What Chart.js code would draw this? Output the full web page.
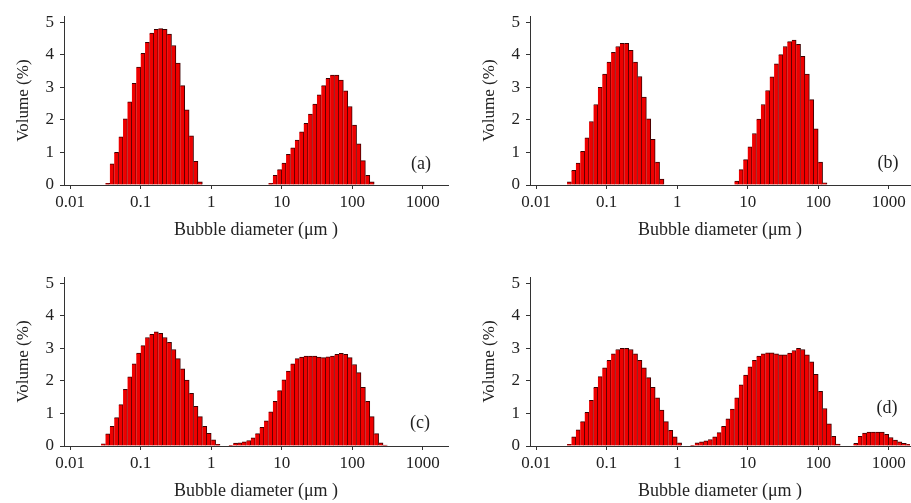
<!DOCTYPE html>
<html>
<head>
<meta charset="utf-8">
<script src="https://cdn.jsdelivr.net/npm/chart.js@4/dist/chart.umd.min.js"></script>
<style>
  body { margin: 0; background: #fff; width: 911px; height: 503px; overflow: hidden; position: relative; }
  canvas { position: absolute; }
</style>
</head>
<body>
<canvas id="grafA" width="455" height="242" style="left:0;top:0"></canvas>
<canvas id="grafB" width="445" height="242" style="left:466px;top:0"></canvas>
<canvas id="grafC" width="455" height="242" style="left:0;top:261px"></canvas>
<canvas id="grafD" width="445" height="242" style="left:466px;top:261px"></canvas>
<script>
// classes de diametro: 16 por decada (escala log)
const binsPorDecada = 16;
const xTicks = [0.01, 0.1, 1, 10, 100, 1000];
const yTicks = [0, 1, 2, 3, 4, 5];

// (a) - inicio de cada pico (um) e volumes (%)
const aPico1Inicio = 0.0316;
const aPico1 = [0.05, 0.65, 1.0, 1.48, 2.03, 2.55, 3.12, 3.62, 4.04, 4.38, 4.66, 4.78, 4.8, 4.78, 4.63, 4.28, 3.74, 3.05, 2.31, 1.51, 0.73, 0.1];
const aPico2Inicio = 6.49;
const aPico2 = [0.05, 0.3, 0.47, 0.67, 0.94, 1.14, 1.38, 1.63, 1.89, 2.18, 2.48, 2.77, 3.05, 3.27, 3.37, 3.37, 3.22, 2.89, 2.41, 1.84, 1.26, 0.75, 0.3, 0.1];

// (b)
const bPico1Inicio = 0.0274;
const bPico1 = [0.1, 0.45, 0.67, 1.03, 1.45, 1.95, 2.47, 3.0, 3.4, 3.77, 4.07, 4.25, 4.35, 4.35, 4.13, 3.77, 3.33, 2.7, 2.03, 1.4, 0.7, 0.18];
const bPico2Inicio = 6.49;
const bPico2 = [0.12, 0.47, 0.78, 1.17, 1.58, 2.02, 2.47, 2.9, 3.32, 3.72, 4.0, 4.25, 4.4, 4.45, 4.32, 3.95, 3.4, 2.62, 1.72, 0.7, 0.07];

// (c)
const cPico1Inicio = 0.0274;
const cPico1 = [0.07, 0.37, 0.6, 0.87, 1.27, 1.74, 2.12, 2.52, 2.85, 3.08, 3.33, 3.43, 3.5, 3.46, 3.33, 3.18, 2.96, 2.68, 2.37, 2.02, 1.62, 1.22, 0.9, 0.6, 0.39, 0.19, 0.05];
const cPico2Inicio = 1.778;
const cPico2 = [0.02, 0.09, 0.1, 0.13, 0.17, 0.25, 0.38, 0.57, 0.77, 1.05, 1.37, 1.7, 2.03, 2.3, 2.52, 2.68, 2.73, 2.76, 2.76, 2.76, 2.73, 2.71, 2.74, 2.76, 2.81, 2.84, 2.81, 2.71, 2.5, 2.25, 1.8, 1.37, 0.9, 0.38, 0.1, 0.03];

// (d)
const dPico1Inicio = 0.0274;
const dPico1 = [0.05, 0.28, 0.5, 0.75, 1.03, 1.4, 1.8, 2.13, 2.4, 2.63, 2.83, 2.96, 3.0, 3.0, 2.96, 2.83, 2.63, 2.4, 2.1, 1.8, 1.48, 1.1, 0.75, 0.48, 0.28, 0.1];
const dPico2Inicio = 1.54;
const dPico2 = [0.02, 0.1, 0.13, 0.16, 0.2, 0.28, 0.41, 0.6, 0.83, 1.13, 1.48, 1.88, 2.18, 2.43, 2.63, 2.76, 2.83, 2.86, 2.86, 2.83, 2.8, 2.8, 2.85, 2.93, 3.0, 2.96, 2.8, 2.58, 2.2, 1.68, 1.15, 0.68, 0.3, 0.06];
const dPico3Inicio = 316.2;
const dPico3 = [0.08, 0.3, 0.4, 0.43, 0.43, 0.43, 0.43, 0.36, 0.26, 0.18, 0.13, 0.08, 0.05];

Chart.defaults.font.family = "'Liberation Serif', 'Times New Roman', serif";
Chart.defaults.color = "#222";

// monta os pontos {x, y} de cada classe a partir do inicio do pico
function pontos(picos) {
    const passo = Math.pow(10, 1 / binsPorDecada);
    const lista = [];
    picos.forEach(([inicio, valores]) => {
        valores.forEach((v, i) => lista.push({ x: inicio * Math.pow(passo, i + 0.5), y: v }));
    });
    return lista;
}

// rotulo (a), (b)... dentro do grafico
const rotuloPainel = {
    id: "rotuloPainel",
    afterDraw(chart, args, opts) {
        const { ctx, chartArea } = chart;
        ctx.save();
        ctx.font = "18px 'Liberation Serif', serif";
        ctx.fillStyle = "#222";
        ctx.textAlign = "center";
        ctx.textBaseline = "middle";
        ctx.fillText(opts.texto, chartArea.right + opts.dx, chartArea.bottom + opts.dy);
        ctx.restore();
    }
};

function graficoDistribuicao(id, picos, texto, xMax, padDireita, dx, dy) {
    const grafico = document.getElementById(id).getContext("2d");
    new Chart(grafico, {
        type: "bar",
        data: {
            datasets: [{
                data: pontos(picos),
                backgroundColor: "#ee0000",
                borderColor: "#3a0000",
                borderWidth: { top: 1, right: 1, left: 0, bottom: 0 },
                borderSkipped: "start",
                categoryPercentage: 1,
                barPercentage: 1
            }]
        },
        options: {
            responsive: false,
            animation: false,
            layout: { padding: { top: 13, right: padDireita, left: 0, bottom: 0 } },
            plugins: {
                legend: { display: false },
                tooltip: { enabled: false },
                rotuloPainel: { texto: texto, dx: dx, dy: dy }
            },
            scales: {
                x: {
                    type: "logarithmic",
                    min: 0.00817,
                    max: xMax,
                    bounds: "data",
                    offset: false,
                    afterBuildTicks: (s) => { s.ticks = xTicks.map(v => ({ value: v })); },
                    afterFit: (s) => { s.height = 57; },
                    ticks: {
                        autoSkip: false,
                        maxRotation: 0,
                        padding: 3,
                        font: { size: 17 },
                        callback: (v) => String(v)
                    },
                    grid: { offset: false, drawOnChartArea: false, drawTicks: true, tickLength: 4, color: "#333" },
                    border: { display: true, color: "#333", width: 1 },
                    title: {
                        display: true,
                        text: "Bubble diameter (\u03bcm )",
                        font: { size: 18 },
                        padding: { top: 0, bottom: 1 }
                    }
                },
                y: {
                    min: 0,
                    max: 5.18,
                    afterBuildTicks: (s) => { s.ticks = yTicks.map(v => ({ value: v })); },
                    afterFit: (s) => { s.width = 64; },
                    ticks: { padding: 6, font: { size: 17 } },
                    grid: { drawOnChartArea: false, drawTicks: true, tickLength: 4, color: "#333" },
                    border: { display: true, color: "#333", width: 1 },
                    title: {
                        display: true,
                        text: "Volume (%)",
                        font: { size: 17 },
                        padding: { top: 13, bottom: 0 }
                    }
                }
            }
        },
        plugins: [rotuloPainel]
    });
}

graficoDistribuicao("grafA", [[aPico1Inicio, aPico1], [aPico2Inicio, aPico2]], "(a)", 2286, 7, -27, -21);
graficoDistribuicao("grafB", [[bPico1Inicio, bPico1], [bPico2Inicio, bPico2]], "(b)", 2005, 1, -22, -22);
graficoDistribuicao("grafC", [[cPico1Inicio, cPico1], [cPico2Inicio, cPico2]], "(c)", 2286, 7, -28, -23);
graficoDistribuicao("grafD", [[dPico1Inicio, dPico1], [dPico2Inicio, dPico2], [dPico3Inicio, dPico3]], "(d)", 2005, 1, -23, -38);
</script>
</body>
</html>
